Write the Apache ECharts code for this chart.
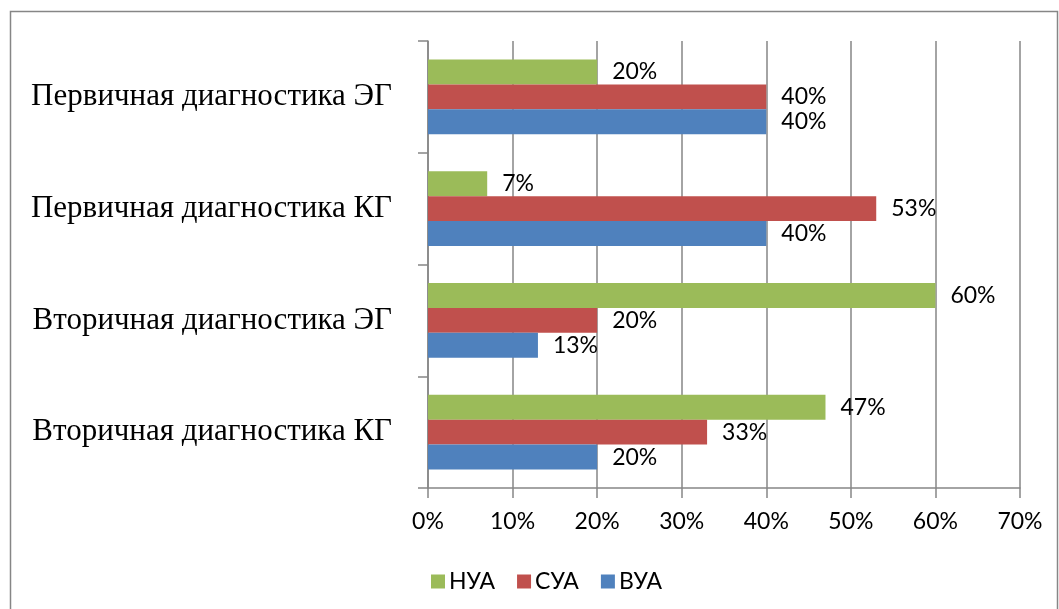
<!DOCTYPE html>
<html>
<head>
<meta charset="utf-8">
<script src="https://cdn.jsdelivr.net/npm/echarts@6/dist/echarts.min.js"></script>
<style>
html,body{margin:0;padding:0;background:#fff;}
#chart{width:1059px;height:609px;}
</style>
</head>
<body>
<div id="chart"></div>
<script>
const categories = ['Вторичная диагностика КГ','Вторичная диагностика ЭГ','Первичная диагностика КГ','Первичная диагностика ЭГ'];
const seriesNames = ['НУА','СУА','ВУА'];
const nua = [47, 60, 7, 20];
const sua = [33, 20, 53, 40];
const vua = [20, 13, 40, 40];
const xTicks = [0, 10, 20, 30, 40, 50, 60, 70];

const colors = {'НУА':'#9BBB59','СУА':'#C0504D','ВУА':'#4F81BD'};
const labelFont = 'Lato';
const chart = echarts.init(document.getElementById('chart'), null, {renderer:'canvas'});

function mk(name, data){
  return {
    name: name, type:'bar', data: data,
    barGap: '0%', barCategoryGap: '33%',
    itemStyle: {color: colors[name]},
    label: {show:true, position:'right', distance:15, formatter:'{c}%',
      color:'#000', fontFamily:labelFont, fontSize:23},
    animation:false
  };
}

chart.setOption({
  animation:false,
  graphic:[{type:'rect', shape:{x:10.5,y:11.5,width:1047,height:640},
    style:{fill:'none', stroke:'#868686', lineWidth:1.5}, silent:true, z:-1}],
  grid:{left:428, right:39, top:41, bottom:121, containLabel:false},
  legend:{
    data: seriesNames, left:426, top:565, itemWidth:14, itemHeight:14, itemGap:22,
    icon:'rect',
    textStyle:{fontFamily:labelFont, fontSize:23, color:'#000', padding:[0,0,0,-1]}
  },
  xAxis:{
    type:'value', min:xTicks[0], max:xTicks[xTicks.length-1], interval:10,
    axisLine:{show:true, lineStyle:{color:'#868686', width:1.5}},
    axisTick:{show:true, length:10, lineStyle:{color:'#868686', width:1.5}},
    splitLine:{show:true, lineStyle:{color:'#868686', width:1.5}},
    axisLabel:{formatter:'{value}%', color:'#000', fontFamily:labelFont, fontSize:23, margin:22}
  },
  yAxis:{
    type:'category', data: categories,
    axisLine:{show:true, lineStyle:{color:'#868686', width:1.5}},
    axisTick:{show:true, length:10, inside:false, lineStyle:{color:'#868686', width:1.5}},
    axisLabel:{color:'#000', fontFamily:'Liberation Serif', fontSize:31, margin:36}
  },
  series:[mk('НУА', nua), mk('СУА', sua), mk('ВУА', vua)]
});
</script>
</body>
</html>
